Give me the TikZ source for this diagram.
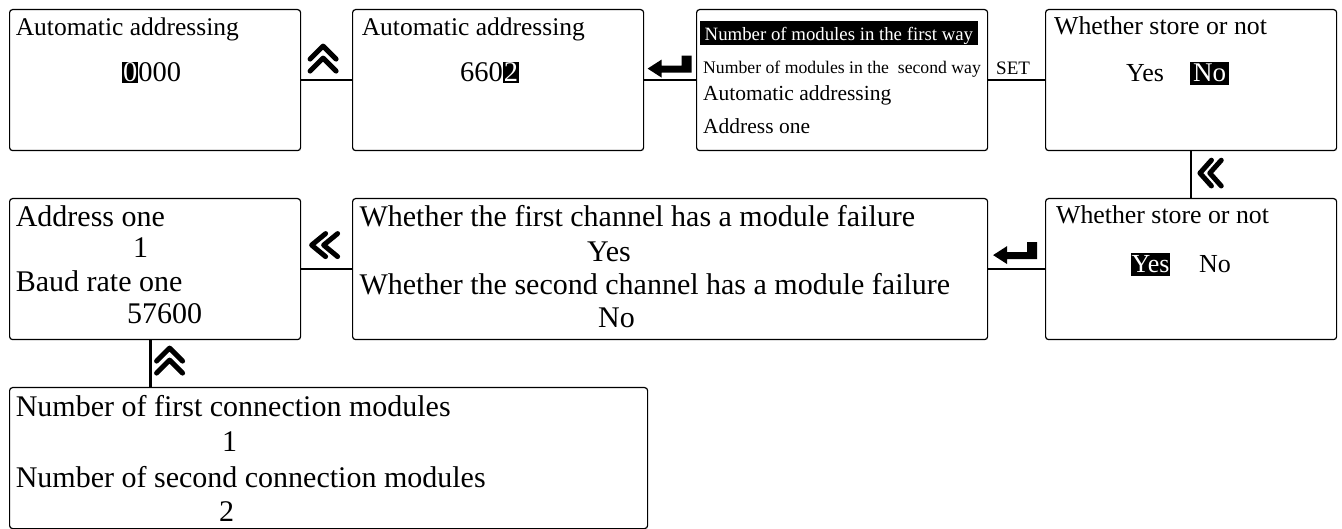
\documentclass[tikz,border=0pt]{standalone}
\usepackage{fontspec}
\setmainfont{Liberation Serif}
\usetikzlibrary{calc}
\newcommand{\fsz}[1]{\fontsize{#1}{#1}\selectfont}
\newcommand{\hlbox}[1]{{\setlength{\fboxsep}{1pt}\colorbox{black}{\textcolor{white}{#1}}}}
\tikzset{
  box/.style={draw, line width=1.2pt, rounded corners=3pt, anchor=north west, inner sep=0pt, minimum height=141pt},
  t/.style={anchor=base west, inner sep=0pt},
  hl/.style={anchor=base west, fill=black, text=white},
  conn/.style={line width=2.5pt},
  sym/.style={line width=5pt, line cap=round, line join=round},
  upchev/.pic={\draw[sym] (-13,0) -- (0,-13) -- (13,0); \draw[sym] (-13,12) -- (0,-1) -- (13,12);},
  leftchev/.pic={\draw[sym] (1,-11.5) -- (-13,0) -- (1,11.5); \draw[sym] (13,-11.5) -- (-1,0) -- (13,11.5);},
  enterkey/.pic={\fill (-22,3) -- (-8,-6) -- (-8,0) -- (12,0) -- (12,-10) -- (22,-10) -- (22,7) -- (-8,7) -- (-8,12) -- cycle;}
}
\begin{document}
\begin{tikzpicture}[x=1pt,y=-1pt]
\useasboundingbox (0,0) rectangle (1342,529);
% boxes
\node[box, minimum width=291pt] (b1) at (9,9) {};
\node[box, minimum width=291pt] (b2) at (352,9) {};
\node[box, minimum width=291pt] (b3) at (696,9) {};
\node[box, minimum width=291pt] (b4) at (1045,9) {};
\node[box, minimum width=291pt] (b5) at (9,198) {};
\node[box, minimum width=635pt] (b6) at (352,198) {};
\node[box, minimum width=291pt] (b7) at (1045,198) {};
\node[box, minimum width=638pt] (b8) at (9,387) {};
% box 1
\node[t, font=\fsz{25.5}] (b1a) at (15.6,36) {Automatic addressing};
\node[t, font=\fsz{28.5}] (b1b) at (122,82) {\hlbox{0}000};
% box 2
\node[t, font=\fsz{25.5}] (b2a) at (361.6,36) {Automatic addressing};
\node[t, font=\fsz{28.5}] (b2b) at (460,82) {660\hlbox{2}};
% box 3
\node[hl, font=\fsz{18.8}, inner xsep=4.5pt, inner ysep=1.5pt, text height=18pt, text depth=3pt] (b3a) at (700,40.7) {Number of modules in the first way};
\node[t, font=\fsz{17.7}] (b3b) at (703,74) {Number of modules in the\ \ second way};
\node[t, font=\fsz{21.5}] (b3c) at (703,101) {Automatic addressing};
\node[t, font=\fsz{21.5}] (b3d) at (703,134) {Address one};
% box 4
\node[t, font=\fsz{25.8}] (b4a) at (1054,35) {Whether store or not};
\node[t, font=\fsz{26}] (b4b) at (1126,82) {Yes};
\node[hl, font=\fsz{27}, inner xsep=3pt, inner ysep=1.5pt, text height=18.5pt, text depth=1.5pt] (b4c) at (1190,82) {No};
% box 5
\node[t, font=\fsz{30}] (b5a) at (15.6,227) {Address one};
\node[t, font=\fsz{30}] (b5b) at (133,258) {1};
\node[t, font=\fsz{30}] (b5c) at (15.6,292) {Baud rate one};
\node[t, font=\fsz{30}] (b5d) at (127,324) {57600};
% box 6
\node[t, font=\fsz{30}] (b6a) at (359.4,227) {Whether the first channel has a module failure};
\node[t, font=\fsz{30}] (b6b) at (587,262) {Yes};
\node[t, font=\fsz{30}] (b6c) at (359.4,295) {Whether the second channel has a module failure};
\node[t, font=\fsz{30}] (b6d) at (598,328) {No};
% box 7
\node[t, font=\fsz{25.8}] (b7a) at (1056,224) {Whether store or not};
\node[hl, font=\fsz{26}, inner xsep=0.5pt, inner ysep=2pt, text height=18pt, text depth=1.5pt] (b7b) at (1131,273) {Yes};
\node[t, font=\fsz{26}] (b7c) at (1199,273) {No};
% box 8
\node[t, font=\fsz{30}] (b8a) at (15.6,416) {Number of first connection modules};
\node[t, font=\fsz{30}] (b8b) at (222,451) {1};
\node[t, font=\fsz{30}] (b8c) at (15.6,487) {Number of second connection modules};
\node[t, font=\fsz{30}] (b8d) at (219,521) {2};
% connectors
\draw[conn] (b1.east) -- (b2.west);
\draw[conn] (b2.east) -- (b3.west);
\draw[conn] (b3.east) -- (b4.west);
\draw[conn] (b4.south) -- (b7.north);
\draw[conn] (b7.west) -- (b6.east);
\draw[conn] (b6.west) -- (b5.east);
\draw[conn] ([xshift=-4.5pt]b5.south) -- ([xshift=-4.5pt]b5.south |- b8.north);
% symbols
\pic at ($(b1.east)!0.5!(b2.west)+(-3.5,-21)$) {upchev};
\pic at ($(b2.east)!0.5!(b3.west)+(-0.5,-14.5)$) {enterkey};
\node[t, anchor=base, font=\fsz{19}] (set) at ($(b3.east)!0.5!(b4.west)+(-3.5,-5.5)$) {SET};
\pic[xscale=0.82, yscale=1.12] at ($(b4.south)!0.5!(b7.north)+(19.5,-1.5)$) {leftchev};
\pic at ($(b7.west)!0.5!(b6.east)+(-1.5,-17)$) {enterkey};
\pic at ($(b6.west)!0.5!(b5.east)+(-2,-24)$) {leftchev};
\pic at ($([xshift=-4.5pt]b5.south)!0.5!([xshift=-4.5pt]b5.south |- b8.north)+(19,-2.5)$) {upchev};
\end{tikzpicture}
\end{document}
